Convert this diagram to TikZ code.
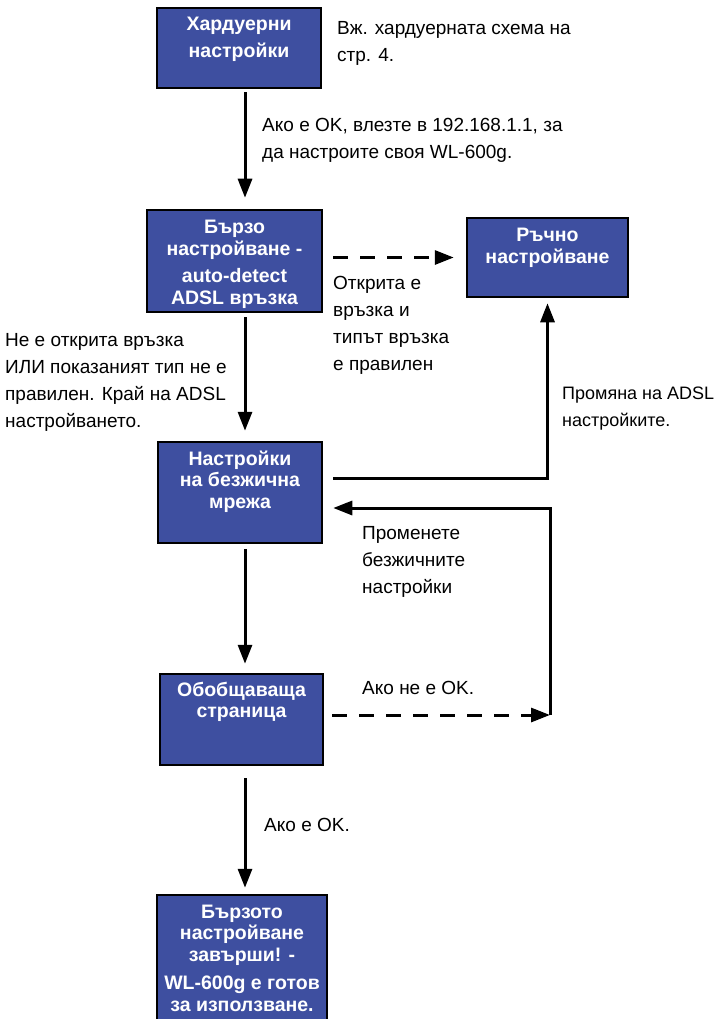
\documentclass[tikz,border=0pt]{standalone}
\usepackage{fontspec}
\setmainfont{Liberation Sans}
\usetikzlibrary{arrows.meta}
\definecolor{boxblue}{RGB}{62,79,160}

\begin{document}
\begin{tikzpicture}[x=1pt,y=-1pt]
        \tikzset{box style/.style={draw=black, line width=2.5pt, rectangle, fill=boxblue}}
        \tikzset{box text/.style={inner sep=0pt, anchor=north, align=center, text=white, font=\fontsize{19.5}{21.5}\selectfont\bfseries}}
        \tikzset{note style/.style={inner sep=0pt, anchor=north west, align=left, font=\fontsize{19}{27}\selectfont}}
        \tikzset{line style/.style={line width=3pt, -{Triangle[length=19pt,width=14pt]}}}
        \tikzset{dash style/.style={line style, dash pattern=on 15pt off 12pt}}

        \useasboundingbox (0,0) rectangle (717,1019);

        % boxes
        \node[box style, minimum width=164pt, minimum height=80pt] (hw) at (239,48) {};
        \node[box text] (hw text) at ([yshift=-10.5pt]hw.north) {Хардуерни\\[5pt]настройки};
        \node[box style, minimum width=175pt, minimum height=102pt] (quick) at (234.5,261) {};
        \node[box text] (quick text) at ([yshift=-11.5pt]quick.north) {Бързо\\настройване -\\[6pt]auto-detect\\ADSL връзка};
        \node[box style, minimum width=161pt, minimum height=79pt] (manual) at (547.5,257.5) {};
        \node[box text] (manual text) at ([yshift=-11.5pt]manual.north) {Ръчно\\настройване};
        \node[box style, minimum width=164pt, minimum height=101pt] (wireless) at (240,492.5) {};
        \node[box text] (wireless text) at ([yshift=-10pt]wireless.north) {Настройки\\на безжична\\мрежа};
        \node[box style, minimum width=163pt, minimum height=91pt] (summary) at (241.5,719.5) {};
        \node[box text] (summary text) at ([yshift=-9pt]summary.north) {Обобщаваща\\страница};
        \node[box style, minimum width=170pt, minimum height=130pt] (done) at (242,960) {};
        \node[box text] (done text) at ([yshift=-11pt]done.north) {Бързото\\настройване\\завърши! -\\[7pt]WL-600g е готов\\за използване.};

        % notes
        \node[note style] (hw note) at (337,21.5) {Вж. хардуерната схема на\\стр. 4.};
        \node[note style] (ip note) at (262,118.5) {Ако е OK, влезте в 192.168.1.1, за\\да настроите своя WL-600g.};
        \node[note style] (found note) at (333,276.5) {Открита е\\връзка и\\типът връзка\\е правилен};
        \node[note style] (fail note) at (5,333.5) {Не е открита връзка\\ИЛИ показаният тип не е\\правилен. Край на ADSL\\настройването.};
        \node[note style, font=\fontsize{18}{27}\selectfont] (adsl note) at (562,387) {Промяна на ADSL\\настройките.};
        \node[note style] (wifi note) at (362,526.5) {Променете\\безжичните\\настройки};
        \node[note style] (notok note) at (362,681.5) {Ако не е OK.};
        \node[note style] (ok note) at (264,818.5) {Ако е OK.};

        % connectors
        \coordinate (spine) at (245,0);
        \coordinate (loop) at (550,715);
        \draw[line style, shorten <=3pt, shorten >=11pt] (hw.south -| spine) -- (quick.north -| spine);
        \draw[line style, shorten <=4pt, shorten >=10pt] (quick.south -| spine) -- (wireless.north -| spine);
        \draw[line style, shorten <=5pt, shorten >=9pt] (wireless.south -| spine) -- (summary.north -| spine);
        \draw[line style, shorten <=12pt, shorten >=6pt] (summary.south -| spine) -- (done.north -| spine);
        \draw[dash style, shorten <=10pt, shorten >=12pt] (quick.east |- manual.west) -- (manual.west);
        \draw[line style, shorten <=10pt, shorten >=5pt] ([yshift=14.5pt]wireless.east) -| (manual.south);
        \draw[dash style, shorten <=8pt] (summary.east |- loop) -- (loop);
        \draw[line style, shorten >=10pt] (loop) |- ([yshift=-15.5pt]wireless.east);
\end{tikzpicture}
\end{document}
